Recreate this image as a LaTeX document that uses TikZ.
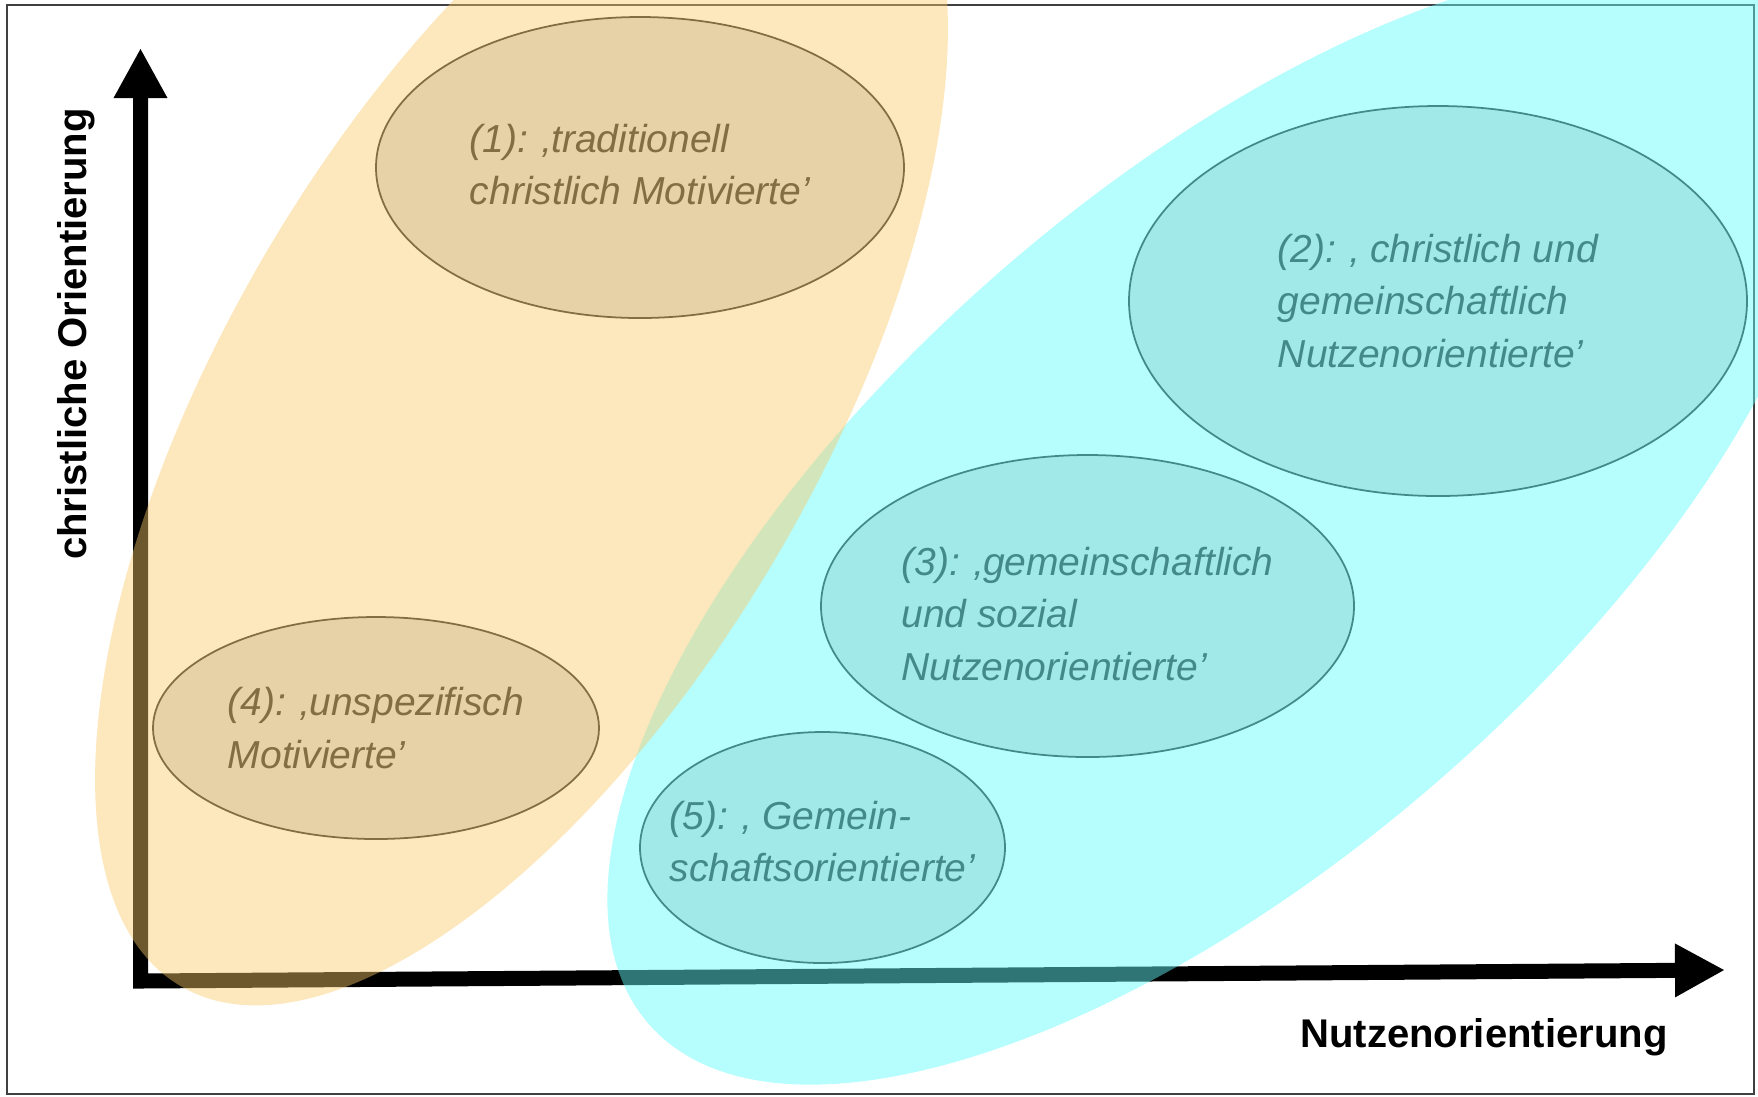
\documentclass[tikz,border=0pt]{standalone}
\usepackage{fontspec}
\setmainfont{Liberation Sans}
\usetikzlibrary{shapes.geometric, arrows.meta}
\definecolor{cyanblob}{RGB}{100,250,250}
\definecolor{orangeblob}{RGB}{250,200,102}
\tikzset{
        >={Triangle[length=5mm,width=5mm]}, % big solid heads on both axes
        axis/.style={<->, line width=1.5mm, line join=miter},
        group/.style={shape=ellipse, draw=black!85, line width=0.5pt, fill=black!15, inner sep=0pt},
        grouptext/.style={align=left, text=black!85, font=\itshape\fontsize{11.1}{15}\selectfont},
        axislabel/.style={font=\bfseries\fontsize{11.4}{13.7}\selectfont},
        frame/.style={draw=black!75, line width=0.6pt}
        }

\begin{document}
\begin{tikzpicture}
        \useasboundingbox (0,0) rectangle (17.58,-10.96);
        \clip (0,0) rectangle (17.58,-10.96);
        \draw[frame] (0.07,-0.05) rectangle (17.54,-10.94);
        % axes
        \coordinate (origin) at (1.405,-9.81);
        \coordinate (ytip) at (1.405,-0.48);
        \coordinate (xtip) at (17.25,-9.70);
        \draw[axis] (ytip) -- (origin) -- (xtip);
        \node[axislabel, rotate=90] (ylabel) at (0.76,-3.34) {christliche Orientierung};
        \node[axislabel, anchor=base] (xlabel) at (14.84,-10.47) {Nutzenorientierung};
        % the five types
        \node[group, minimum width=5.28cm, minimum height=3.01cm] (g1) at (6.40,-1.675) {};
        \node[grouptext, yshift=0.3mm] (t1) at (g1) {(1): ‚traditionell\\christlich Motivierte’};
        \node[group, minimum width=6.18cm, minimum height=3.90cm] (g2) at (14.38,-3.01) {};
        \node[grouptext] (t2) at (g2) {(2): ‚ christlich und\\gemeinschaftlich\\Nutzenorientierte’};
        \node[group, minimum width=5.33cm, minimum height=3.02cm] (g3) at (10.875,-6.06) {};
        \node[grouptext, yshift=-0.8mm] (t3) at (g3) {(3): ‚gemeinschaftlich\\und sozial\\Nutzenorientierte’};
        \node[group, minimum width=4.46cm, minimum height=2.22cm] (g4) at (3.76,-7.28) {};
        \node[grouptext] (t4) at (g4) {(4): ‚unspezifisch\\Motivierte’};
        \node[group, minimum width=3.65cm, minimum height=2.31cm] (g5) at (8.225,-8.475) {};
        \node[grouptext, yshift=0.6mm] (t5) at (g5) {(5): ‚ Gemein-\\schaftsorientierte’};
        % the two clusters on top
        \fill[cyanblob, fill opacity=0.47, rotate around={41.11:(12.203,-5.252)}] (12.203,-5.252) ellipse (7.586 and 3.359);
        \fill[orangeblob, fill opacity=0.44, rotate around={59.65:(5.215,-4.043)}] (5.215,-4.043) ellipse (6.743 and 2.971);
\end{tikzpicture}
\end{document}
